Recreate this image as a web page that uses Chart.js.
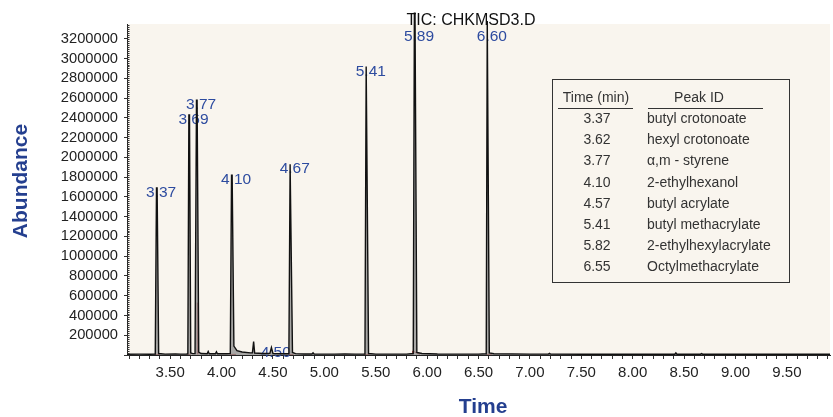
<!DOCTYPE html>
<html>
<head>
<meta charset="utf-8">
<script src="https://cdn.jsdelivr.net/npm/chart.js@4"></script>
<style>
  html, body { margin: 0; padding: 0; background: #fff; }
  #wrap { width: 833px; height: 417px; }
</style>
</head>
<body>
<div id="wrap"><canvas id="myChart" width="833" height="417"></canvas></div>
<script>
// trace of the chromatogram (time in min, abundance)
const traceTimes = [3.08, 3.20, 3.30, 3.355, 3.367, 3.373, 3.388, 3.45, 3.55, 3.60, 3.66,
  3.672, 3.682, 3.688, 3.70, 3.72, 3.742, 3.756, 3.762, 3.778, 3.80, 3.86, 3.87, 3.88,
  3.94, 3.95, 3.96, 4.05, 4.085, 4.097, 4.103, 4.12, 4.15, 4.20, 4.28, 4.30, 4.312, 4.322,
  4.40, 4.47, 4.485, 4.50, 4.58, 4.65, 4.655, 4.667, 4.673, 4.69, 4.72, 4.80, 4.88, 4.89,
  4.90, 5.00, 5.10, 5.20, 5.30, 5.39, 5.395, 5.407, 5.413, 5.43, 5.50, 5.60, 5.70, 5.80,
  5.865, 5.876, 5.882, 5.90, 5.95, 6.10, 6.30, 6.50, 6.575, 6.585, 6.591, 6.605, 6.65,
  7.00, 7.18, 7.19, 7.20, 7.50, 8.00, 8.41, 8.42, 8.43, 8.66, 8.67, 8.68, 9.00, 9.50, 9.92];
const traceAbund = [8000, 9000, 8000, 10000, 1690000, 1690000, 15000, 9000, 10000, 9000, 10000,
  12000, 2430000, 2430000, 20000, 14000, 15000, 2580000, 2580000, 30000, 15000, 12000, 35000, 12000,
  12000, 32000, 12000, 12000, 15000, 1820000, 1820000, 90000, 45000, 30000, 22000, 22000, 135000, 20000,
  15000, 16000, 75000, 15000, 12000, 13000, 15000, 1930000, 1930000, 25000, 14000, 10000, 10000, 22000,
  10000, 9000, 9000, 11000, 9000, 9000, 10000, 2920000, 2920000, 15000, 9000, 9000, 9000, 9000,
  15000, 3460000, 3460000, 25000, 15000, 10000, 9000, 9000, 12000, 3380000, 3380000, 20000, 12000,
  9000, 9000, 17000, 9000, 8000, 8000, 8000, 22000, 8000, 8000, 14000, 8000, 8000, 7000, 7000];

// red integration marks under the peaks
const markTimes = [3.35, 3.40, null, 3.665, 3.70, null, 3.764, 3.764, null, 3.772, 3.772, null,
  4.08, 4.14, null, 4.65, 4.70, null, 5.38, 5.44, null, 5.86, 5.86, 5.93, null, 6.57, 6.63];
const markAbund = [6000, 6000, null, 6000, 6000, null, 6000, 530000, null, 6000, 240000, null,
  6000, 6000, null, 6000, 6000, null, 6000, 6000, null, 6000, 40000, 6000, null, 6000, 6000];

// peak labels
const peakLabels = ['3.37', '3.69', '3.77', '4.10', '4.50', '4.67', '5.41', '5.89', '6.60'];
const peakTimes = [3.37, 3.685, 3.759, 4.10, 4.485, 4.67, 5.41, 5.879, 6.588];
const peakHeights = [1690000, 2430000, 2580000, 1820000, 75000, 1930000, 2920000, 3460000, 3380000];

// peak ID table
const tableTimes = ['3.37', '3.62', '3.77', '4.10', '4.57', '5.41', '5.82', '6.55'];
const tableNames = ['butyl crotonoate', 'hexyl crotonoate', 'α,m - styrene', '2-ethylhexanol',
  'butyl acrylate', 'butyl methacrylate', '2-ethylhexylacrylate', 'Octylmethacrylate'];

// axis ticks
const yTickStep = 200000;
const yMax = 3350000;
const xTickStep = 0.1;
const xLabelStep = 0.5;

const FONT = '"Liberation Sans", Arial, Helvetica, sans-serif';
const BLUE = '#243f8f';
const LABEL_BLUE = '#2d4b9f';

const traceData = traceTimes.map((t, i) => ({x: t, y: traceAbund[i]}));
const markData = markTimes.map((t, i) => t === null ? {x: null, y: null} : {x: t, y: markAbund[i]});

const decorPlugin = {
  id: 'decor',
  beforeDraw(chart) {
    const {ctx, chartArea: a} = chart;
    ctx.save();
    ctx.fillStyle = '#f9f5ee';
    ctx.fillRect(a.left, a.top, a.right - a.left, a.bottom - a.top);
    ctx.restore();
  },
  beforeDatasetsDraw(chart) {
    const {ctx, chartArea: a, scales} = chart;
    ctx.save();
    ctx.font = '15.5px ' + FONT;
    ctx.fillStyle = LABEL_BLUE;
    ctx.textBaseline = 'top';
    ctx.textAlign = 'left';
    peakLabels.forEach((lab, i) => {
      const px = scales.x.getPixelForValue(peakTimes[i]);
      const py = Math.max(scales.y.getPixelForValue(peakHeights[i]), a.top + 8);
      const head = lab.split('.')[0];
      const off = ctx.measureText(head).width + ctx.measureText('.').width / 2;
      ctx.fillText(lab, px - off, py - 3);
    });
    ctx.restore();
  },
  afterDraw(chart) {
    const {ctx, chartArea: a, scales} = chart;
    ctx.save();
    // minor ticks on the y axis
    ctx.strokeStyle = '#333';
    ctx.lineWidth = 1;
    ctx.beginPath();
    for (let v = 0; v <= scales.y.max; v += 20000) {
      const py = Math.round(scales.y.getPixelForValue(v)) + 0.5;
      ctx.moveTo(a.left, py);
      ctx.lineTo(a.left + 2.5, py);
    }
    ctx.stroke();

    // title
    ctx.fillStyle = '#111';
    ctx.font = '16px ' + FONT;
    ctx.textAlign = 'center';
    ctx.textBaseline = 'alphabetic';
    ctx.fillText('TIC: CHKMSD3.D', 471, 25);

    // axis titles
    ctx.fillStyle = BLUE;
    ctx.font = 'bold 21px ' + FONT;
    ctx.textBaseline = 'middle';
    ctx.fillText('Time', 483, 407);
    ctx.save();
    ctx.translate(21, 181);
    ctx.rotate(-Math.PI / 2);
    ctx.fillText('Abundance', 0, 0);
    ctx.restore();

    // peak table
    ctx.fillStyle = '#f9f5ee';
    ctx.fillRect(552, 79.5, 237, 203);
    ctx.strokeStyle = '#333';
    ctx.strokeRect(552.5, 79.5, 237, 203);
    ctx.fillStyle = '#333';
    ctx.font = '14px ' + FONT;
    ctx.textBaseline = 'middle';
    ctx.textAlign = 'center';
    ctx.fillText('Time (min)', 596, 98.5);
    ctx.fillText('Peak ID', 699, 98.5);
    ctx.beginPath();
    ctx.moveTo(558, 108.5); ctx.lineTo(633, 108.5);
    ctx.moveTo(648, 108.5); ctx.lineTo(763, 108.5);
    ctx.stroke();
    tableTimes.forEach((t, i) => {
      const ry = 119.5 + i * 21.05;
      ctx.textAlign = 'center';
      ctx.fillText(t, 597, ry);
      ctx.textAlign = 'left';
      ctx.fillText(tableNames[i], 647, ry);
    });
    ctx.restore();
  }
};

new Chart(document.getElementById('myChart'), {
  type: 'line',
  data: {
    datasets: [{
      data: traceData,
      borderColor: '#111',
      borderWidth: 1.4,
      backgroundColor: 'rgba(140,140,140,0.75)',
      fill: 'origin',
      pointRadius: 0,
      tension: 0,
      clip: false
    }, {
      data: markData,
      borderColor: '#b02020',
      borderWidth: 1,
      pointRadius: 0,
      spanGaps: false,
      fill: false
    }]
  },
  options: {
    responsive: false,
    animation: false,
    layout: {padding: {left: 0, top: 24, right: 2, bottom: 0}},
    plugins: {legend: {display: false}, tooltip: {enabled: false}},
    scales: {
      x: {
        type: 'linear',
        min: 3.08,
        max: 9.92,
        afterFit: s => { s.height = 62; },
        afterBuildTicks: s => {
          const first = Math.ceil(s.min / xTickStep - 1e-9);
          const ticks = [];
          for (let k = first; k * xTickStep <= s.max + 1e-9; k++) ticks.push({value: +(k * xTickStep).toFixed(2)});
          s.ticks = ticks;
        },
        border: {color: '#222', width: 1},
        grid: {drawOnChartArea: false, tickLength: 4, color: '#333'},
        ticks: {
          autoSkip: false,
          maxRotation: 0,
          padding: 5,
          color: '#222',
          font: {family: FONT, size: 15},
          callback: v => {
            const r = v / xLabelStep;
            return Math.abs(r - Math.round(r)) < 1e-6 ? Number(v).toFixed(2) : '';
          }
        }
      },
      y: {
        type: 'linear',
        min: 0,
        max: yMax,
        afterFit: s => { s.width = 127; },
        afterBuildTicks: s => {
          const ticks = [];
          for (let v = 0; v <= yMax; v += yTickStep) ticks.push({value: v});
          s.ticks = ticks;
        },
        border: {color: '#222', width: 1},
        grid: {drawOnChartArea: false, tickLength: 3, color: '#333'},
        ticks: {
          autoSkip: false,
          padding: 6,
          color: '#222',
          font: {family: FONT, size: 14.7},
          callback: v => (v > 0 ? String(Math.round(v)) : '')
        }
      }
    }
  },
  plugins: [decorPlugin]
});
</script>
</body>
</html>
